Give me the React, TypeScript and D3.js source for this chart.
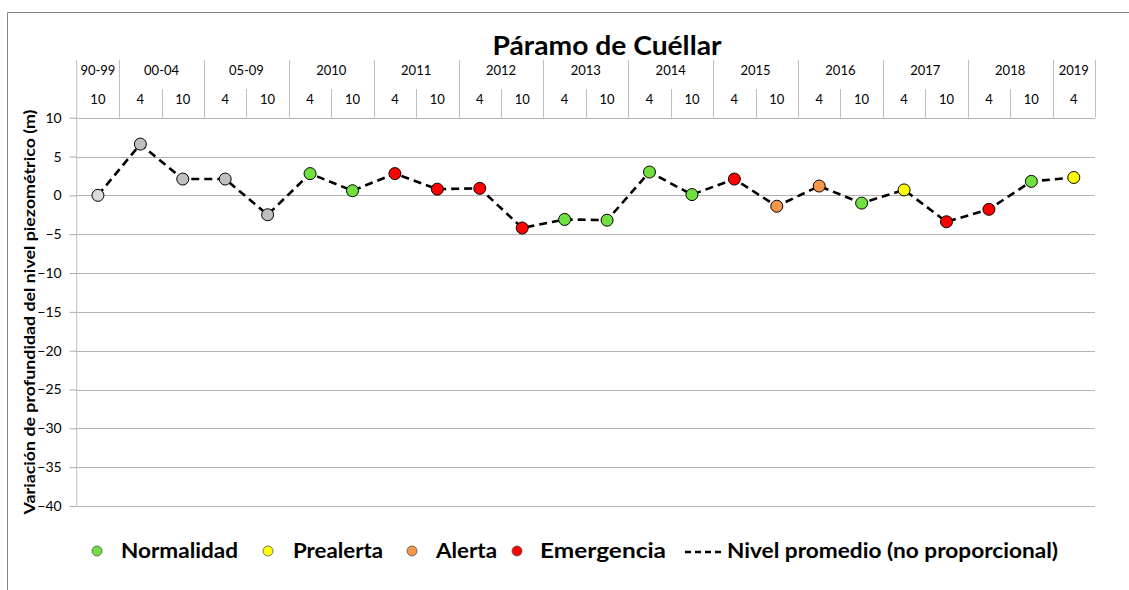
import React, { useRef, useEffect } from "react";
import * as d3 from "d3";

// periodo (fila superior de la cabecera) y mes de cada medición
const periods = [
  "90-99", "00-04", "00-04", "05-09", "05-09", "2010", "2010", "2011", "2011",
  "2012", "2012", "2013", "2013", "2014", "2014", "2015", "2015", "2016", "2016",
  "2017", "2017", "2018", "2018", "2019",
];
const months = [
  "10", "4", "10", "4", "10", "4", "10", "4", "10", "4", "10", "4", "10",
  "4", "10", "4", "10", "4", "10", "4", "10", "4", "10", "4",
];
// variación del nivel piezométrico (m)
const levels = [
  0, 6.6, 2.1, 2.1, -2.5, 2.8, 0.6, 2.8, 0.8, 0.9, -4.2, -3.1, -3.2, 3.0, 0.1,
  2.1, -1.4, 1.2, -1.0, 0.7, -3.4, -1.8, 1.8, 2.3,
];
// estado de cada punto
const states = [
  "ref", "sin", "sin", "sin", "sin", "N", "N", "E", "E", "E", "E", "N", "N", "N",
  "N", "E", "A", "A", "N", "P", "E", "E", "N", "P",
];
const yTicks = [10, 5, 0, -5, -10, -15, -20, -25, -30, -35, -40];

const stateColor: Record<string, string> = {
  ref: "#d9d9d9",
  sin: "#bfbfbf",
  N: "#6fe03f",
  P: "#ffff00",
  A: "#f79646",
  E: "#ff0000",
};

const legendItems = [
  { key: "N", label: "Normalidad", cx: 97, tx: 121, w: 117 },
  { key: "P", label: "Prealerta", cx: 268, tx: 293, w: 90 },
  { key: "A", label: "Alerta", cx: 412, tx: 436, w: 61 },
  { key: "E", label: "Emergencia", cx: 517, tx: 540, w: 126 },
];

const W = 1129;
const H = 590;
const FONT = "Lato, 'Open Sans', sans-serif";

const App: React.FC = () => {
  const svgRef = useRef<SVGSVGElement | null>(null);

  useEffect(() => {
    if (!svgRef.current) return;
    const svg = d3.select(svgRef.current);
    svg.selectAll("*").remove();

    const left = 76.7;
    const right = 1095;
    const headTop = 60;
    const headMid = 89;

    const x = d3
      .scaleBand<number>()
      .domain(levels.map((_, i) => i))
      .range([left, right]);
    const y = d3.scaleLinear().domain([-40, 10]).range([506, 117.7]);

    // marco exterior
    svg.append("line").attr("x1", 7.5).attr("x2", W).attr("y1", 12.5).attr("y2", 12.5).attr("stroke", "#868686");
    svg.append("line").attr("x1", 7.5).attr("x2", 7.5).attr("y1", 12.5).attr("y2", H).attr("stroke", "#868686");

    // título
    svg
      .append("text")
      .attr("x", 607)
      .attr("y", 55)
      .attr("text-anchor", "middle")
      .attr("font-family", FONT)
      .attr("font-weight", "bold")
      .attr("font-size", 27)
      .attr("textLength", 229)
      .attr("lengthAdjust", "spacingAndGlyphs")
      .text("Páramo de Cuéllar");

    // rejilla
    svg
      .append("g")
      .selectAll("line")
      .data(yTicks)
      .join("line")
      .attr("x1", left)
      .attr("x2", right)
      .attr("y1", (d) => Math.round(y(d)) + 0.5)
      .attr("y2", (d) => Math.round(y(d)) + 0.5)
      .attr("stroke", "#b3b3b3");

    // eje Y
    const yAxis = svg
      .append("g")
      .attr("transform", `translate(${left},0)`)
      .call(d3.axisLeft(y).tickValues(yTicks).tickSize(7).tickPadding(8));
    yAxis.select(".domain").remove();
    yAxis.selectAll(".tick line").attr("stroke", "#a6a6a6");
    yAxis
      .selectAll("text")
      .attr("font-family", FONT)
      .attr("font-size", 14)
      .attr("fill", "#000");
    svg
      .append("line")
      .attr("x1", left)
      .attr("x2", left)
      .attr("y1", headTop)
      .attr("y2", y(-40))
      .attr("stroke", "#bfbfbf");

    // cabecera de categorías
    const head = svg.append("g");
    const groups: { label: string; start: number; end: number }[] = [];
    periods.forEach((p, i) => {
      const last = groups[groups.length - 1];
      if (last && last.label === p) last.end = i;
      else groups.push({ label: p, start: i, end: i });
    });
    groups.forEach((g) => {
      const x0 = x(g.start)!;
      const x1 = x(g.end)! + x.bandwidth();
      head
        .append("line")
        .attr("x1", Math.round(x1) + 0.5)
        .attr("x2", Math.round(x1) + 0.5)
        .attr("y1", headTop)
        .attr("y2", y(10))
        .attr("stroke", "#bfbfbf");
      head
        .append("text")
        .attr("x", (x0 + x1) / 2)
        .attr("y", 75)
        .attr("text-anchor", "middle")
        .attr("font-family", FONT)
        .attr("font-size", 13)
        .text(g.label);
      if (g.end > g.start) {
        const xm = Math.round(x(g.end)!) + 0.5;
        head
          .append("line")
          .attr("x1", xm)
          .attr("x2", xm)
          .attr("y1", headMid)
          .attr("y2", y(10))
          .attr("stroke", "#bfbfbf");
      }
    });
    head
      .selectAll(".mes")
      .data(months)
      .join("text")
      .attr("class", "mes")
      .attr("x", (_, i) => x(i)! + x.bandwidth() / 2)
      .attr("y", 104)
      .attr("text-anchor", "middle")
      .attr("font-family", FONT)
      .attr("font-size", 13)
      .text((d) => d);

    // título eje Y
    svg
      .append("text")
      .attr("transform", `translate(35,312) rotate(-90)`)
      .attr("text-anchor", "middle")
      .attr("font-family", FONT)
      .attr("font-weight", "bold")
      .attr("font-size", 15)
      .attr("textLength", 405)
      .attr("lengthAdjust", "spacingAndGlyphs")
      .text("Variación de profundidad del nivel piezométrico (m)");

    // línea de nivel promedio
    const line = d3
      .line<number>()
      .x((_, i) => x(i)! + x.bandwidth() / 2)
      .y((d) => y(d));
    svg
      .append("path")
      .datum(levels)
      .attr("d", line)
      .attr("fill", "none")
      .attr("stroke", "#000")
      .attr("stroke-width", 2.6)
      .attr("stroke-dasharray", "8,5");

    // puntos
    svg
      .append("g")
      .selectAll("circle")
      .data(levels)
      .join("circle")
      .attr("cx", (_, i) => x(i)! + x.bandwidth() / 2)
      .attr("cy", (d) => y(d))
      .attr("r", 6)
      .attr("fill", (_, i) => stateColor[states[i]])
      .attr("stroke", "#000")
      .attr("stroke-width", 1);

    // leyenda
    const ly = 551;
    const leg = svg.append("g");
    legendItems.forEach((it) => {
      leg
        .append("circle")
        .attr("cx", it.cx)
        .attr("cy", ly)
        .attr("r", 5)
        .attr("fill", stateColor[it.key])
        .attr("stroke", "#555")
        .attr("stroke-width", 0.8);
      leg
        .append("text")
        .attr("x", it.tx)
        .attr("y", ly + 7)
        .attr("font-family", FONT)
        .attr("font-weight", "bold")
        .attr("font-size", 21)
        .attr("textLength", it.w)
        .attr("lengthAdjust", "spacingAndGlyphs")
        .text(it.label);
    });
    leg
      .append("line")
      .attr("x1", 685)
      .attr("x2", 724)
      .attr("y1", ly + 1)
      .attr("y2", ly + 1)
      .attr("stroke", "#000")
      .attr("stroke-width", 2.5)
      .attr("stroke-dasharray", "6,4");
    leg
      .append("text")
      .attr("x", 727)
      .attr("y", ly + 7)
      .attr("font-family", FONT)
      .attr("font-weight", "bold")
      .attr("font-size", 21)
      .attr("textLength", 331)
      .attr("lengthAdjust", "spacingAndGlyphs")
      .text("Nivel promedio (no proporcional)");
  }, []);

  return (
    <div style={{ position: "absolute", left: 0, top: 0 }}>
      <svg ref={svgRef} width={W} height={H} style={{ display: "block", background: "#fff" }}></svg>
    </div>
  );
};

export default App;
